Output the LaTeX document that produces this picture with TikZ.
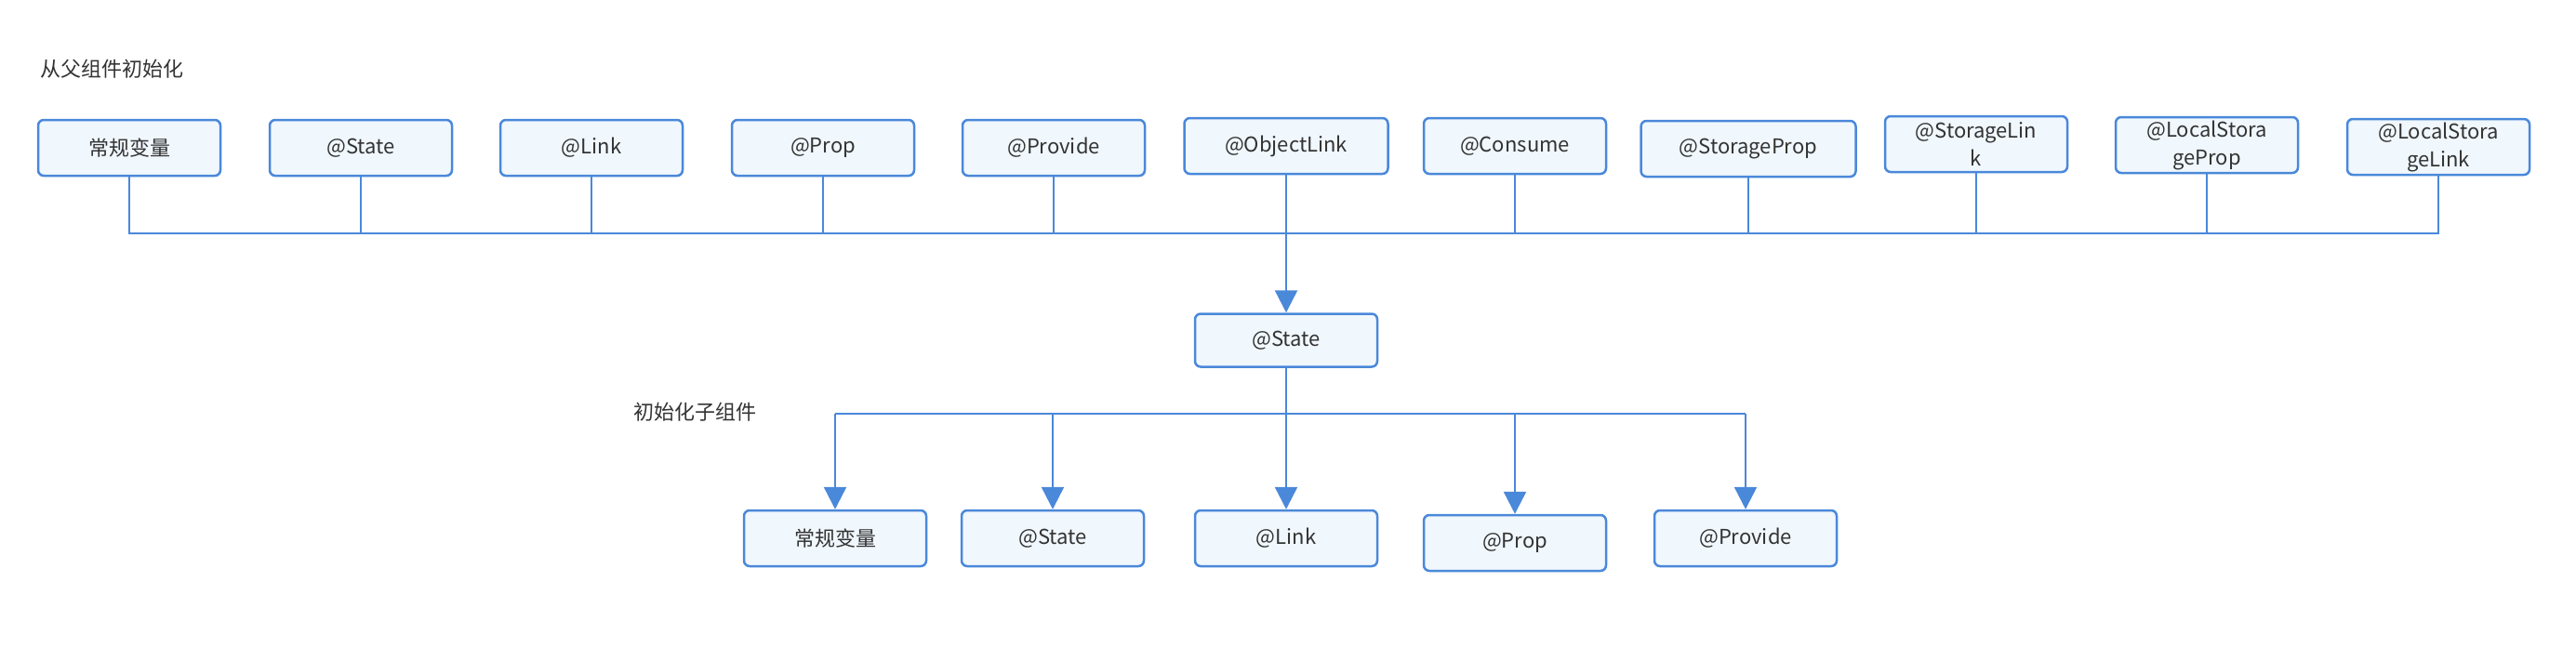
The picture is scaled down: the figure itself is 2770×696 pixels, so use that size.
\documentclass[tikz,border=0pt]{standalone}
\usepackage{fontspec}
\setmainfont{Noto Sans CJK SC}
\usetikzlibrary{arrows.meta}
\usetikzlibrary{calc}

\definecolor{lineblue}{HTML}{4A88DA}
\definecolor{boxfill}{HTML}{F0F7FD}
\definecolor{txtgray}{HTML}{333333}

\begin{document}
\begin{tikzpicture}[x=1pt, y=-1pt,
  box/.style={draw=lineblue, fill=boxfill, line width=2.5pt, rounded corners=6pt,
    minimum width=196pt, minimum height=60pt, inner sep=0pt, text=txtgray,
    font=\fontsize{22}{30}\selectfont, align=center},
  wire/.style={draw=lineblue, line width=2.5pt},
  arr/.style={wire, -{Triangle[length=24pt, width=24pt]}},
  lbl/.style={text=txtgray, font=\fontsize{22}{26}\selectfont, anchor=west}]
\useasboundingbox (0,0) rectangle (2770,696);

\pgfmathsetmacro{\bus}{251};
\pgfmathsetmacro{\branch}{445};
\coordinate (bus) at (0,\bus);
\coordinate (branch) at (0,\branch);

\node[lbl] (parent) at (40,74) {从父组件初始化};
\node[lbl] (child) at (678,443) {初始化子组件};

% parent row
\node[box] (p1) at (139,159) {常规变量};
\node[box] (p2) at (388,159) {@State};
\node[box] (p3) at (636,159) {@Link};
\node[box] (p4) at (885,159) {@Prop};
\node[box] (p5) at (1133,159) {@Provide};
\node[box, minimum width=219pt] (p6) at (1383,157) {@ObjectLink};
\node[box] (p7) at (1629,157) {@Consume};
\node[box, minimum width=231pt] (p8) at (1880,160) {@StorageProp};
\node[box] (p9) at (2125,155) {@StorageLin\\k};
\node[box] (p10) at (2373,156) {@LocalStora\\geProp};
\node[box] (p11) at (2622,158) {@LocalStora\\geLink};

\draw[wire] (p1.south) -- (p1.south |- bus) -- (p11.south |- bus) -- (p11.south);
\foreach \i in {2,...,10}
  \draw[wire] (p\i.south) -- (p\i.south |- bus);

% child component
\node[box, minimum height=57pt] (mid) at (1383,366) {@State};
\draw[arr] (p6.south) -- (mid.north);

\node[box] (c1) at (898,579) {常规变量};
\node[box] (c2) at (1132,579) {@State};
\node[box] (c3) at (1383,579) {@Link};
\node[box] (c4) at (1629,584) {@Prop};
\node[box] (c5) at (1877,579) {@Provide};

\draw[arr] (mid.south) -- (c3.north);
\draw[wire] (c1.north |- branch) -- (c5.north |- branch);
\foreach \i in {1,2,4,5}
  \draw[arr] (c\i.north |- branch) -- (c\i.north);
\end{tikzpicture}
\end{document}
